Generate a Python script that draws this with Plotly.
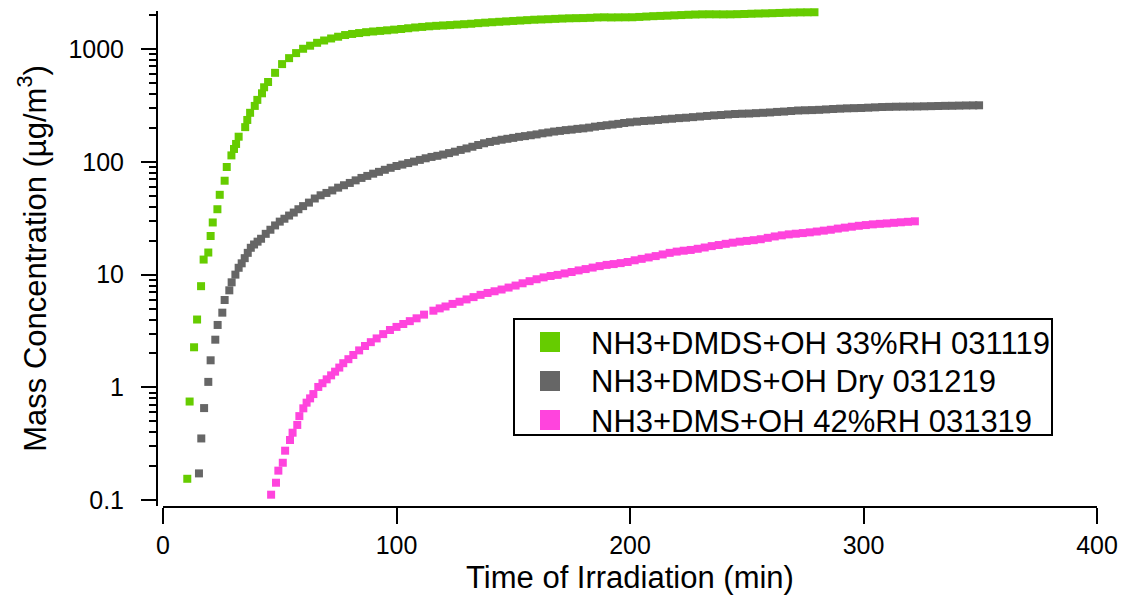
import plotly.graph_objects as go

# Time of irradiation (min) and aerosol mass concentration (ug/m3) for each experiment
dmds_rh_time = [10.4, 11.4, 13.3, 14.6, 16.3, 17.4, 19.4, 20.4, 21.3, 23.3, 24.3, 26.4, 27.3,
                29.3, 30.4, 31.3, 32.4, 35.2, 36.1, 37.3, 39.3, 40.4, 42.4, 43.3,
                45, 48, 51, 54, 57, 60, 63, 66, 69, 72, 75, 78, 81, 84, 87, 90, 93, 96, 99,
                102, 105, 108, 111, 114, 117, 120, 123, 126, 129, 132, 135, 138, 141, 144,
                147, 150, 153, 156, 159, 162, 165, 168, 171, 174, 177, 180, 183, 186, 189,
                192, 195, 198, 201, 204, 207, 210, 213, 216, 219, 222, 225, 228, 231, 234,
                237, 240, 243, 246, 249, 252, 255, 258, 261, 264, 267, 270, 273, 276, 279]
dmds_rh_mass = [0.155, 0.75, 2.27, 4.0, 7.9, 13.6, 15.7, 22, 29, 38, 51, 68, 90,
                114, 130, 144, 167, 203, 235, 272, 313, 354, 405, 458,
                510, 615, 735, 830, 920, 1005, 1070, 1135, 1190, 1240, 1285, 1330, 1360,
                1385, 1410, 1430, 1447, 1465, 1485,
                1505, 1528, 1552, 1570, 1590, 1605, 1618, 1630, 1645, 1660, 1675, 1695,
                1712, 1728, 1743,
                1758, 1773, 1788, 1803, 1818, 1828, 1838, 1850, 1862, 1872, 1877, 1881,
                1890, 1905, 1910,
                1905, 1908, 1910, 1912, 1925, 1940, 1955, 1965, 1975, 1988, 2000, 2012,
                2022, 2030, 2032,
                2030, 2028, 2030, 2036, 2045, 2055, 2063, 2070, 2078, 2088, 2098, 2107,
                2113, 2115, 2118]

dmds_dry_time = [15.4, 16.4, 17.6, 19.4, 20.4, 22.4, 23.4, 25.4, 26.4, 28.4, 29.4, 31.0, 32.4,
                 33.7, 35.0, 36.3, 37.6, 39.0, 40.5, 42, 44, 46, 48, 50, 52, 54, 56, 58, 60,
                 62.5, 65, 67.5, 70, 72.5, 75, 77.5, 80, 82.5, 85, 87.5, 90, 92.5, 95, 97.5,
                 100, 102.5, 105, 107.5, 110, 112.5, 115, 117.5, 120, 122.5, 125, 127.5,
                 130, 132.5, 135, 137.5, 140, 142.5, 145, 147.5, 150, 152.5, 155, 157.5,
                 160, 162.5, 165, 167.5, 170, 172.5, 175, 177.5, 180, 182.5, 185, 187.5,
                 190, 192.5, 195, 197.5, 200, 203, 206, 209, 212, 215, 218, 221, 224, 227,
                 230, 233, 236, 239, 242, 245, 248, 251, 254, 257, 260, 263, 266, 269, 272,
                 275, 278, 281, 284, 287, 290, 293, 296, 299, 302, 305, 308, 311, 314, 317,
                 320, 323, 326, 329, 332, 335, 338, 341, 344, 347, 349.5]
dmds_dry_mass = [0.173, 0.353, 0.656, 1.12, 1.74, 2.65, 3.58, 4.60, 5.96, 7.26, 8.55, 10.0, 11.5,
                 12.6, 14.0, 15.6, 17.3, 18.5, 19.6, 20.8, 23.0, 25.0, 27.3, 29.5, 31.3, 33.4,
                 35.5, 38.0, 40.5,
                 43.5, 47.3, 50.5, 53.0, 55.8, 59.0, 62.0, 65.0, 68.5, 72.0, 75.0, 78.5,
                 81.5, 85.0, 88.5,
                 91.8, 94.5, 97.5, 100.5, 104, 107.5, 110.5, 113, 116, 119.5, 123, 127.5,
                 131.5, 136, 141, 146, 150, 153.5, 157, 160, 163, 166.5, 169, 172,
                 175, 179, 182, 185.5, 188, 191, 193, 196, 198, 201, 205, 208,
                 211, 214, 217, 221, 224, 227, 230, 232, 235, 238.5, 241, 244, 246, 249,
                 252, 255, 258, 260, 263, 265.5, 267, 268, 270, 272, 274, 277, 279, 282, 285,
                 286.5, 287.5, 289, 291.5, 294, 296, 298, 299, 300, 302, 304, 306, 307, 308,
                 308.5, 309, 309.5, 310.5, 311.5, 312.5, 313.5, 314, 315, 316, 316.5, 317]

dms_rh_time = [46.3, 48.4, 49.4, 51.3, 52.3, 54.4, 55.5, 57.5, 58.4, 60.1, 61.5, 63, 64.4,
               66.5, 68.3, 70.1, 72, 73.7, 75.5, 77.2, 79.4, 81.5, 84, 86.5, 89, 91.5, 94.3,
               97.2, 100, 102.9, 105.7, 108.6, 111.8, 115.8, 118.5, 121, 124, 127, 130, 133,
               136, 139, 142, 145, 148, 151, 154, 157, 160, 163, 166, 169, 172, 175, 178,
               181, 184, 187, 190, 193, 196, 199, 202, 205, 208, 211, 214, 217, 220, 223,
               226, 229, 232, 235, 238, 241, 244, 247, 250, 253, 256, 259, 262, 265, 268,
               271, 274, 277, 280, 283, 286, 289, 292, 295, 298, 301, 304, 307, 310, 313,
               316, 319, 322]
dms_rh_mass = [0.112, 0.143, 0.183, 0.215, 0.275, 0.342, 0.397, 0.465, 0.557, 0.653, 0.733,
               0.80, 0.873,
               1.01, 1.09, 1.18, 1.28, 1.38, 1.50, 1.64, 1.78, 1.94, 2.13, 2.33, 2.52, 2.72,
               2.97,
               3.23, 3.44, 3.65, 3.87, 4.10, 4.42, 4.79, 5.02, 5.22, 5.50, 5.75, 6.03, 6.32,
               6.62, 6.88, 7.12, 7.38, 7.68, 8.00, 8.38, 8.75, 9.10, 9.45, 9.72, 9.95, 10.25,
               10.55, 10.9,
               11.2, 11.55, 11.9, 12.2, 12.4, 12.65, 12.95, 13.4, 13.8, 14.2, 14.6, 15.1,
               15.6, 16.0, 16.3,
               16.55, 16.95, 17.4, 17.9, 18.3, 18.75, 19.2, 19.6, 19.9, 20.2, 20.6, 21.2,
               21.8, 22.3, 22.75,
               23.05, 23.35, 23.7, 24.1, 24.55, 25.0, 25.6, 26.1, 26.6, 27.1, 27.5, 27.9,
               28.2, 28.45, 28.8,
               29.1, 29.4, 29.7]

series_names = ["NH3+DMDS+OH 33%RH 031119",
                "NH3+DMDS+OH Dry 031219",
                "NH3+DMS+OH 42%RH 031319"]
series_colors = ["#66CC00", "#666666", "#FF44DD"]

x_ticks = [0, 100, 200, 300, 400]
y_ticks = [0.1, 1, 10, 100, 1000]
y_tick_text = ["0.1", "1", "10", "100", "1000"]
y_minor = [m * d for d in (0.1, 1, 10, 100, 1000) for m in range(2, 10)]

FONT = "Liberation Sans, Arial, sans-serif"

# page geometry (px)
W, H = 1122, 601
ML, MR, MT, MB = 163, 25, 11, 95
PW, PH = W - ML - MR, H - MT - MB


def px_x(px):
    return (px - ML) / PW


def px_y(py):
    return (H - MB - py) / PH


fig = go.Figure()

data = [(dmds_rh_time, dmds_rh_mass), (dmds_dry_time, dmds_dry_mass), (dms_rh_time, dms_rh_mass)]
for (t, m), color, name in zip(data, series_colors, series_names):
    fig.add_trace(go.Scatter(
        x=t, y=m, mode="markers", name=name, showlegend=False, cliponaxis=False,
        marker=dict(symbol="square", size=8, color=color, line=dict(width=0)),
    ))

# boxed key in the lower right of the plot area
shapes = [dict(type="rect", xref="paper", yref="paper",
               x0=px_x(514), x1=px_x(1052), y0=px_y(435), y1=px_y(319),
               line=dict(color="black", width=2), fillcolor="white", layer="above")]
annotations = []
row_y = [342, 381, 420]
for name, color, ry in zip(series_names, series_colors, row_y):
    shapes.append(dict(type="rect", xref="paper", yref="paper",
                       x0=px_x(540), x1=px_x(560), y0=px_y(ry + 10), y1=px_y(ry - 10),
                       line=dict(width=0), fillcolor=color, layer="above"))
    annotations.append(dict(text=name, xref="paper", yref="paper",
                            x=px_x(589), y=px_y(ry + 1), xanchor="left", yanchor="middle",
                            showarrow=False, font=dict(size=31, family=FONT, color="black")))

fig.update_layout(
    template="none",
    width=W, height=H,
    margin=dict(l=ML, r=MR, t=MT, b=MB, autoexpand=False),
    plot_bgcolor="white", paper_bgcolor="white",
    font=dict(family=FONT, color="black", size=25),
    showlegend=False,
    shapes=shapes,
    annotations=annotations,
)

fig.update_xaxes(
    range=[0, 400], tickvals=x_ticks, ticks="outside", ticklen=16, tickwidth=2,
    tickcolor="black", showline=True, linewidth=2, linecolor="black",
    showgrid=False, zeroline=False, tickfont=dict(size=25), automargin=False,
    title=dict(text="Time of Irradiation (min)", font=dict(size=31), standoff=8),
)
fig.update_yaxes(
    type="log", range=[-1.051, 3.337], tickvals=y_ticks, ticktext=y_tick_text,
    ticks="outside", ticklen=15, tickwidth=2, tickcolor="black",
    anchor="free", position=0, shift=-6, automargin=False,
    showline=True, linewidth=2, linecolor="black", showgrid=False, zeroline=False,
    tickfont=dict(size=25), ticklabelstandoff=12,
    minor=dict(tickvals=y_minor, ticks="outside", ticklen=7, tickwidth=2,
               tickcolor="black", showgrid=False),
    title=dict(text="Mass Concentration (µg/m<sup>3</sup>)", font=dict(size=31), standoff=12),
)

fig.write_html("out.html")
